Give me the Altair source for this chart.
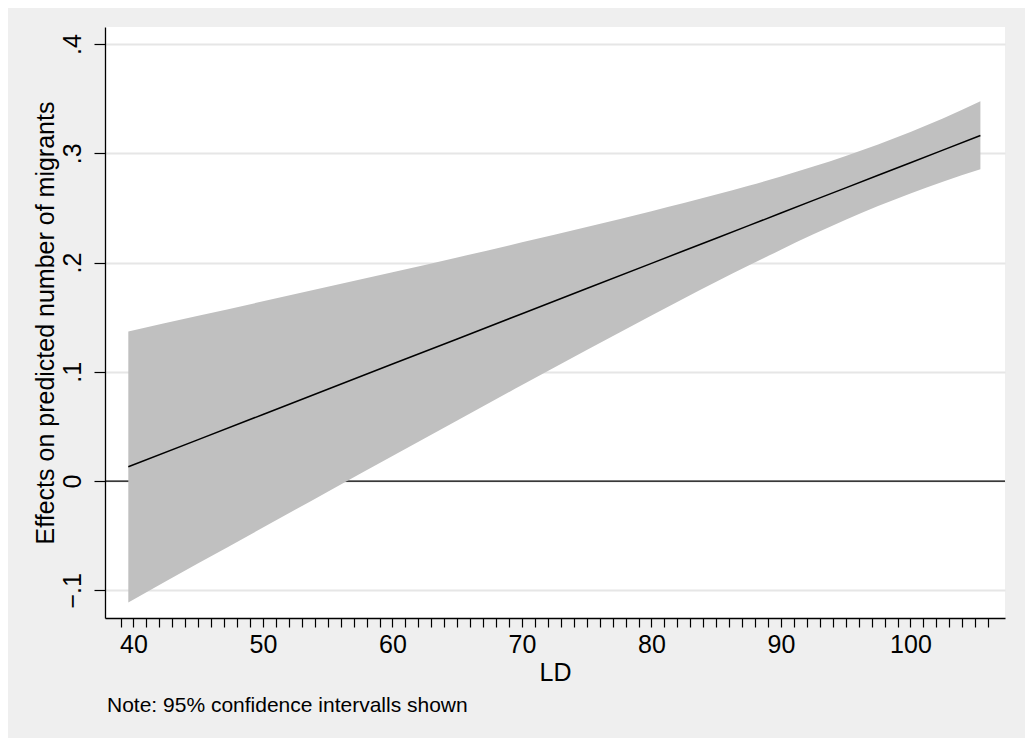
import altair as alt
import pandas as pd

# Values
ld = [39.6, 45, 50, 55, 60, 65, 70, 75, 80, 82.5, 85, 87.5, 90, 92.5, 95, 97.5, 100, 102.5, 105.4]
effect = [0.0131, 0.0380, 0.0610, 0.0841, 0.1071, 0.1301, 0.1532, 0.1762, 0.1993, 0.2108,
          0.2223, 0.2338, 0.2453, 0.2569, 0.2684, 0.2799, 0.2914, 0.3029, 0.3163]
upper = [0.137, 0.1513, 0.1645, 0.1779, 0.1912, 0.2047, 0.2185, 0.2325, 0.2470, 0.2545,
         0.2622, 0.2703, 0.2788, 0.2879, 0.2976, 0.3081, 0.3195, 0.3318, 0.3477]
lower = [-0.111, -0.0753, -0.0425, -0.0097, 0.0230, 0.0555, 0.0879, 0.1199, 0.1516, 0.1671,
         0.1824, 0.1973, 0.2118, 0.2259, 0.2392, 0.2517, 0.2633, 0.2740, 0.2854]
zero_line = [0.0]

y_ticks = [-0.1, 0.0, 0.1, 0.2, 0.3, 0.4]
x_ticks = list(range(39, 107))

x_title = "LD"
y_title = "Effects on predicted number of migrants"
note = "Note: 95% confidence intervalls shown"

df = pd.DataFrame({"LD": ld, "effect": effect, "upper": upper, "lower": lower})
zdf = pd.DataFrame({"effect": zero_line})

FONT = "Liberation Sans"

x_scale = alt.Scale(domain=[37.8, 107.3], nice=False, zero=False)
y_scale = alt.Scale(domain=[-0.1253, 0.4156], nice=False, zero=False)

x_axis = alt.Axis(
    values=x_ticks,
    labelExpr="datum.value % 10 === 0 ? datum.label : ''",
    tickSize=9,
    labelPadding=5,
    labelOverlap=False,
    labelFlush=False,
    grid=False,
    titleX=450,
    titleY=62,
    titleAlign="center",
    titleBaseline="alphabetic",
)
y_axis = alt.Axis(
    values=y_ticks,
    labelExpr="datum.value == 0 ? '0' : (datum.value < 0 ? '\u2212' : '') + replace(format(abs(datum.value), '.1f'), '0.', '.')",
    tickSize=11,
    labelAngle=270,
    labelAlign="center",
    labelBaseline="bottom",
    labelPadding=9,
    labelOverlap=False,
    labelFlush=False,
    grid=True,
    titleAngle=270,
    titleX=-52,
    titleY=295.5,
    titleAlign="center",
    titleBaseline="alphabetic",
)

rule = alt.Chart(zdf).mark_rule(color="black", strokeWidth=1.3).encode(
    y=alt.Y("effect:Q", scale=y_scale, axis=y_axis, title=y_title)
)

band = alt.Chart(df).mark_area(color="#c0c0c0", opacity=1, interpolate="monotone").encode(
    x=alt.X("LD:Q", scale=x_scale, axis=x_axis, title=x_title),
    y=alt.Y("lower:Q", scale=y_scale, axis=y_axis, title=y_title),
    y2="upper:Q",
)

line = alt.Chart(df).mark_line(color="black", strokeWidth=1.5).encode(
    x=alt.X("LD:Q", scale=x_scale, axis=x_axis, title=x_title),
    y=alt.Y("effect:Q", scale=y_scale, axis=y_axis, title=y_title),
)

chart = (
    alt.layer(rule, band, line)
    .properties(
        width=900,
        height=591,
        autosize=alt.AutoSizeParams(type="none"),
        padding={"left": 97, "top": 19, "right": 20, "bottom": 120},
        background="#efefef",
        title=alt.TitleParams(
            text=note,
            orient="bottom",
            anchor="start",
            frame="group",
            fontSize=21,
            fontWeight="normal",
            font=FONT,
            color="black",
            offset=10,
            baseline="top",
            dx=2,
        ),
    )
    .configure_view(stroke=None, fill="white")
    .configure_axis(
        domainColor="black",
        domainWidth=1.3,
        tickColor="black",
        tickWidth=1.2,
        labelFont=FONT,
        labelFontSize=25,
        labelColor="black",
        titleFont=FONT,
        titleFontSize=25,
        titleFontWeight="normal",
        titleColor="black",
        gridColor="#e6e6e6",
        gridWidth=2,
    )
)

chart.save("out.html", embed_options={"renderer": "svg", "actions": False})
